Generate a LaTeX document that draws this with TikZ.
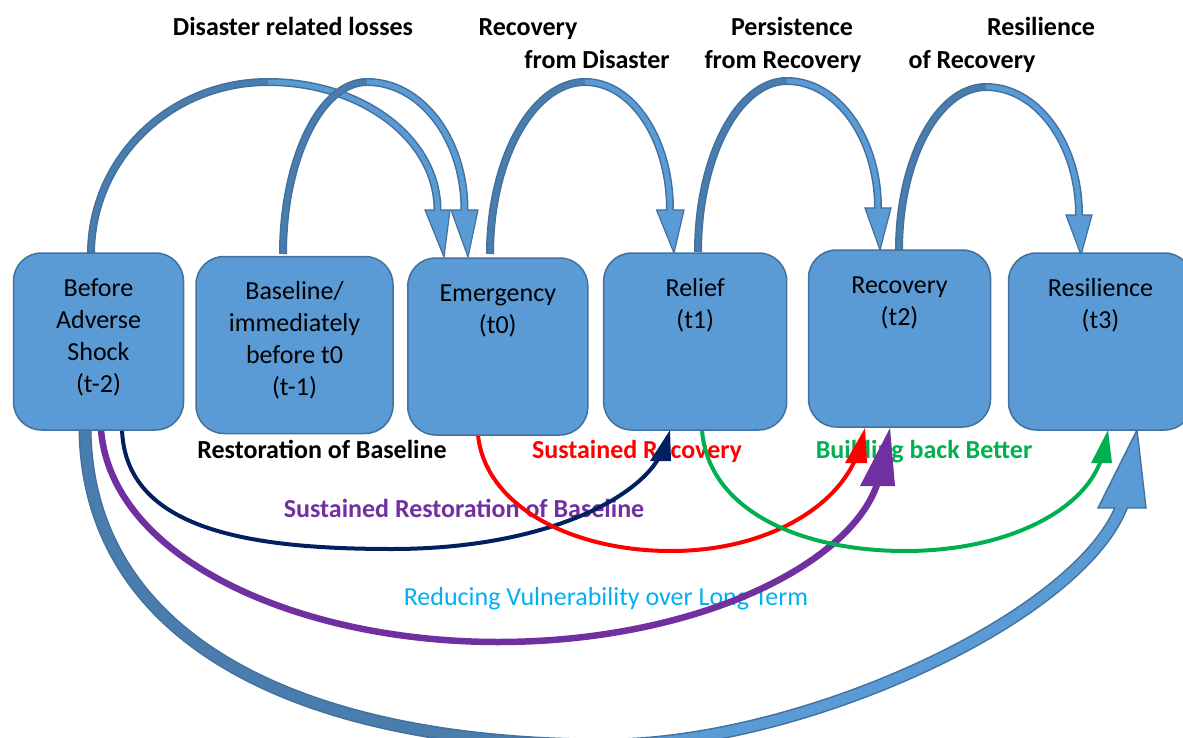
\documentclass[tikz,border=0pt]{standalone}
\usepackage{fontspec}
\setmainfont{Carlito}
\usetikzlibrary{calc}
\definecolor{boxfill}{HTML}{5B9BD5}
\definecolor{boxline}{HTML}{41719C}
\definecolor{backc}{HTML}{4A7DAE}
\definecolor{navyc}{HTML}{002060}
\definecolor{redc}{HTML}{FF0000}
\definecolor{greenc}{HTML}{00B050}
\definecolor{purplec}{HTML}{7030A0}
\definecolor{cyanc}{HTML}{00B0F0}
\begin{document}
\begin{tikzpicture}[x=1pt,y=-1pt,
  stage/.style={draw=boxline, fill=boxfill, line width=1.5pt, rounded corners=28pt, minimum height=177pt, inner sep=0pt},
  stagetext/.style={anchor=north, align=center, inner sep=0pt, font=\fontsize{26}{32}\selectfont},
  boldlabel/.style={anchor=base, inner sep=0pt, font=\fontsize{26}{32}\selectfont\bfseries},
  shaftouter/.style={draw=boxline, line width=8pt},
  shaftback/.style={draw=backc, line width=5pt},
  shaftfront/.style={draw=boxfill, line width=5pt},
  bigouter/.style={draw=boxline, line width=13pt},
  bigback/.style={draw=backc, line width=10pt},
  bigfront/.style={draw=boxfill, line width=10pt},
  headbox/.style={draw=boxline, fill=boxfill, line width=1.2pt, line join=miter},
  thinline/.style={line width=4pt},
]
\useasboundingbox (0,0) rectangle (1183,738);

% ---------- labels ----------
\node[boldlabel] (l1) at (293,36) {Disaster related losses};
\node[boldlabel] (l2a) at (528,36) {Recovery};
\node[boldlabel] (l2b) at (597,69) {from Disaster};
\node[boldlabel] (l3a) at (792,36) {Persistence};
\node[boldlabel] (l3b) at (783,69) {from Recovery};
\node[boldlabel] (l4a) at (1041,36) {Resilience};
\node[boldlabel] (l4b) at (972,69) {of Recovery};
\node[boldlabel] (l5) at (322,458) {Restoration of Baseline};
\node[boldlabel, text=redc] (l6) at (637,458) {Sustained Recovery};
\node[boldlabel, text=greenc] (l7) at (924,458) {Building back Better};
\node[boldlabel, text=purplec] (l8) at (464,517) {Sustained Restoration of Baseline};
\node[anchor=base, inner sep=0pt, font=\fontsize{26}{32}\selectfont, text=cyanc] (l9) at (606,605) {Reducing Vulnerability over Long Term};

% ---------- big blue arrow (t-2) -> (t3) ----------
\coordinate (zS) at (85,430); \coordinate (zM) at (606,745); \coordinate (zB) at (1121,508);
\coordinate (zL) at (1098,508); \coordinate (zT) at (1137,430); \coordinate (zR) at (1146,508);
\draw[bigouter] (zS) .. controls (88,640) and (300,745) .. (zM) .. controls (800,745) and (1075,620) .. (zB) -- ++(4,-10);
\draw[headbox, line width=1.4pt] (zL) -- (zT) -- (zR) -- cycle;
\draw[bigback] (zS) .. controls (88,640) and (300,745) .. (zM);
\draw[bigfront] (zM) .. controls (800,745) and (1075,620) .. (zB) -- ++(4,-10);

% ---------- purple ----------
\coordinate (pS) at (101,430); \coordinate (pM) at (498,642); \coordinate (pB) at (880,474);
\draw[purplec, line width=6.5pt] (pS) .. controls (112,560) and (300,642) .. (pM) .. controls (700,642) and (862,560) .. (pB);
\fill[purplec] (860,486) -- (890,428) -- (895,486) -- cycle;

% ---------- navy ----------
\coordinate (nS) at (122,430); \coordinate (nM) at (392,549); \coordinate (nB) at (662,452);
\draw[navyc, thinline] (nS) .. controls (126,530) and (250,549) .. (nM) .. controls (540,549) and (640,500) .. (nB);
\fill[navyc] (650,461) -- (670,430) -- (671,461) -- cycle;

% ---------- red ----------
\coordinate (rS) at (478,435); \coordinate (rM) at (671,551); \coordinate (rB) at (858,453);
\draw[redc, thinline] (rS) .. controls (485,505) and (570,551) .. (rM) .. controls (765,551) and (838,508) .. (rB);
\fill[redc] (845,463) -- (865,428) -- (867,463) -- cycle;

% ---------- green ----------
\coordinate (gS) at (702,430); \coordinate (gM) at (905,551); \coordinate (gB) at (1103,453);
\draw[greenc, thinline] (gS) .. controls (708,510) and (800,551) .. (gM) .. controls (1010,551) and (1090,508) .. (gB);
\fill[greenc] (1091,463) -- (1108,430) -- (1112,463) -- cycle;

% ---------- top arrows ----------
% A: (t-2) -> (t0)
\coordinate (aS) at (91,254); \coordinate (aP) at (268,82); \coordinate (aB) at (437.5,210);
\coordinate (aL) at (425,210); \coordinate (aT) at (444,257); \coordinate (aR) at (450,210);
\draw[shaftouter] (aS) .. controls (91,159) and (170,82) .. (aP) .. controls (362,82) and (437.5,139) .. (aB) -- ++(0,8);
\draw[headbox] (aL) -- (aT) -- (aR) -- cycle;
\draw[shaftback] (aS) .. controls (91,159) and (170,82) .. (aP);
\draw[shaftfront] (aP) .. controls (362,82) and (437.5,139) .. (aB) -- ++(0,8);
% B: (t-1) -> (t0)
\coordinate (bS) at (283,254); \coordinate (bP) at (367,82); \coordinate (bB) at (464.5,210);
\coordinate (bL) at (451,210); \coordinate (bT) at (468,257); \coordinate (bR) at (478,210);
\draw[shaftouter] (bS) .. controls (283,159) and (321,82) .. (bP) .. controls (421,82) and (464.5,139) .. (bB) -- ++(0,8);
\draw[headbox] (bL) -- (bT) -- (bR) -- cycle;
\draw[shaftback] (bS) .. controls (283,159) and (321,82) .. (bP);
\draw[shaftfront] (bP) .. controls (421,82) and (464.5,139) .. (bB) -- ++(0,8);
% C: (t0) -> (t1)
\coordinate (cS) at (490,254); \coordinate (cP) at (585,82); \coordinate (cB) at (670,210);
\coordinate (cL) at (656.5,210); \coordinate (cT) at (674,253); \coordinate (cR) at (684,210);
\draw[shaftouter] (cS) .. controls (490,159) and (533,82) .. (cP) .. controls (632,82) and (670,139) .. (cB) -- ++(0,8);
\draw[headbox] (cL) -- (cT) -- (cR) -- cycle;
\draw[shaftback] (cS) .. controls (490,159) and (533,82) .. (cP);
\draw[shaftfront] (cP) .. controls (632,82) and (670,139) .. (cB) -- ++(0,8);
% D: (t1) -> (t2)
\coordinate (dS) at (698,252); \coordinate (dP) at (787,81); \coordinate (dB) at (878,208);
\coordinate (dL) at (865,208); \coordinate (dT) at (880,250); \coordinate (dR) at (891,208);
\draw[shaftouter] (dS) .. controls (698,158) and (738,81) .. (dP) .. controls (837,81) and (878,138) .. (dB) -- ++(0,8);
\draw[headbox] (dL) -- (dT) -- (dR) -- cycle;
\draw[shaftback] (dS) .. controls (698,158) and (738,81) .. (dP);
\draw[shaftfront] (dP) .. controls (837,81) and (878,138) .. (dB) -- ++(0,8);
% E: (t2) -> (t3)
\coordinate (eS) at (899,250); \coordinate (eP) at (986,87); \coordinate (eB) at (1079,215);
\coordinate (eL) at (1066,215); \coordinate (eT) at (1081,255); \coordinate (eR) at (1092,215);
\draw[shaftouter] (eS) .. controls (899,160) and (938,87) .. (eP) .. controls (1037,87) and (1079,144) .. (eB) -- ++(0,8);
\draw[headbox] (eL) -- (eT) -- (eR) -- cycle;
\draw[shaftback] (eS) .. controls (899,160) and (938,87) .. (eP);
\draw[shaftfront] (eP) .. controls (1037,87) and (1079,144) .. (eB) -- ++(0,8);

% ---------- stages ----------
\node[stage, minimum width=170pt] (b1) at (98.5,341.5) {};
\node[stage, minimum width=197pt] (b2) at (294.5,345) {};
\node[stage, minimum width=180pt] (b3) at (497.8,346.5) {};
\node[stage, minimum width=183pt] (b4) at (695.2,341.5) {};
\node[stage, minimum width=182pt] (b5) at (899.5,338.5) {};
\node[stage, minimum width=184pt] (b6) at (1100.5,341.5) {};

\node[stagetext] (t1) at ($(b1.north)+(0,24)$) {\rule{0pt}{20pt}Before\\Adverse\\Shock\\(t-2)};
\node[stagetext] (t2) at ($(b2.north)+(0,24)$) {\rule{0pt}{20pt}Baseline/\\immediately\\before t0\\(t-1)};
\node[stagetext] (t3) at ($(b3.north)+(0,24)$) {\rule{0pt}{20pt}Emergency\\(t0)};
\node[stagetext] (t4) at ($(b4.north)+(0,24)$) {\rule{0pt}{20pt}Relief\\(t1)};
\node[stagetext] (t5) at ($(b5.north)+(0,24)$) {\rule{0pt}{20pt}Recovery\\(t2)};
\node[stagetext] (t6) at ($(b6.north)+(0,24)$) {\rule{0pt}{20pt}Resilience\\(t3)};
\end{tikzpicture}
\end{document}
